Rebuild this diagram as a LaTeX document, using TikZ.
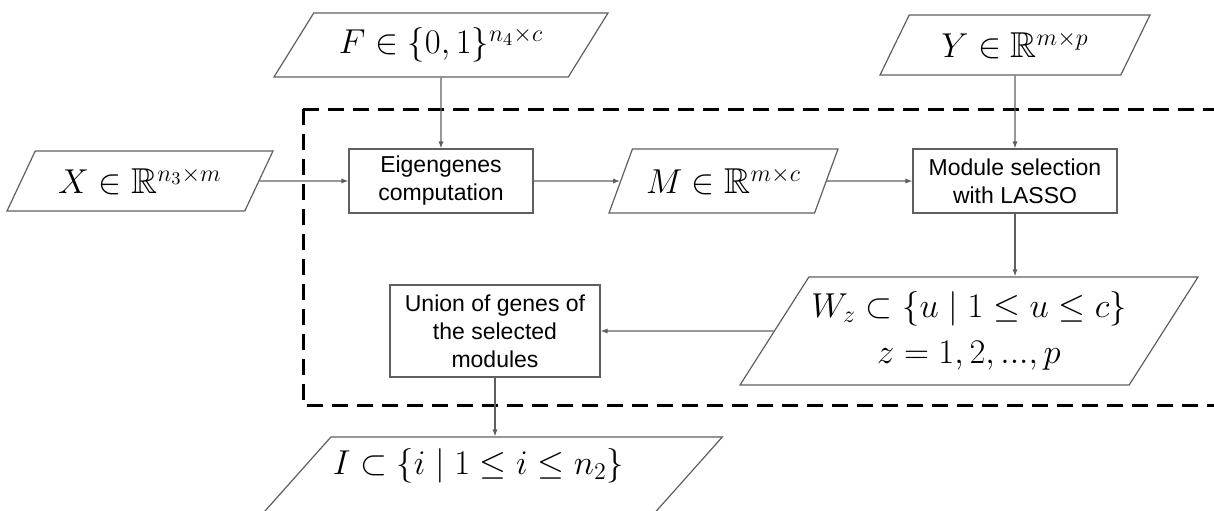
\documentclass[tikz,border=0pt]{standalone}
\usepackage{fontspec}
\setsansfont{Liberation Sans}
\usepackage{amssymb}
\usetikzlibrary{arrows.meta, shapes.geometric}

\definecolor{edgegray}{HTML}{5F5F5F}

\begin{document}
\begin{tikzpicture}[
    x=0.5pt, y=0.5pt,
    box/.style={rectangle, draw=edgegray, line width=0.6pt, align=center, inner sep=1pt,
                font=\sffamily\fontsize{11.5}{14}\selectfont},
    data/.style={trapezium, draw=edgegray, line width=0.6pt, align=center, inner sep=1pt,
                 trapezium stretches body=true, trapezium left angle=#1, trapezium right angle=180-#1,
                 font=\fontsize{18}{23}\selectfont},
    arr/.style={-{Latex[length=3.5pt, width=2.6pt]}, draw=edgegray, line width=0.6pt},
    frame/.style={draw=black, line width=1.5pt, dash pattern=on 8pt off 4.5pt}
]
\clip (0,0) rectangle (1214,510);

% dashed region round the method
\draw[frame] (303,401) rectangle (1240,105);

\node[data=48.5, minimum width=133pt, minimum height=30pt] (xin) at (140,329) {$X \in \mathbb{R}^{n_3 \times m}$};
\node[data=44.6, minimum width=167pt, minimum height=32pt] (fin) at (441,465) {$F \in \{0,1\}^{n_4 \times c}$};
\node[data=47.5, minimum width=135pt, minimum height=30pt] (yin) at (1015,465) {$Y \in \mathbb{R}^{m \times p}$};

\node[box, minimum width=92pt, minimum height=32pt] (eig) at (441,329) {Eigengenes\\computation};
\node[data=53.7, minimum width=114.5pt, minimum height=32pt] (mmat) at (723.5,329) {$M \in \mathbb{R}^{m \times c}$};
\node[box, minimum width=102pt, minimum height=32pt] (lasso) at (1015,329) {Module selection\\with LASSO};

\node[data=50.2, minimum width=229pt, minimum height=54pt] (wsel) at (969,179) {$W_z \subset \{u \mid 1 \leq u \leq c\}$\\$z = 1, 2, ..., p$};
\node[box, minimum width=105pt, minimum height=46pt] (union) at (495,179) {Union of genes of\\the selected\\modules};
\node[data=43, minimum width=218.5pt, minimum height=54pt] (iset) at (478.5,19) {$I \subset \{i \mid 1 \leq i \leq n_2\}$\\\strut};

\draw[arr] (xin) -- (eig);
\draw[arr] (fin) -- (eig);
\draw[arr] (eig) -- (mmat);
\draw[arr] (mmat) -- (lasso);
\draw[arr] (yin) -- (lasso);
\draw[arr] (lasso.south) -- (lasso.south |- wsel.north);
\draw[arr] (wsel) -- (union);
\draw[arr] (union.south) -- (union.south |- iset.north);
\end{tikzpicture}
\end{document}
